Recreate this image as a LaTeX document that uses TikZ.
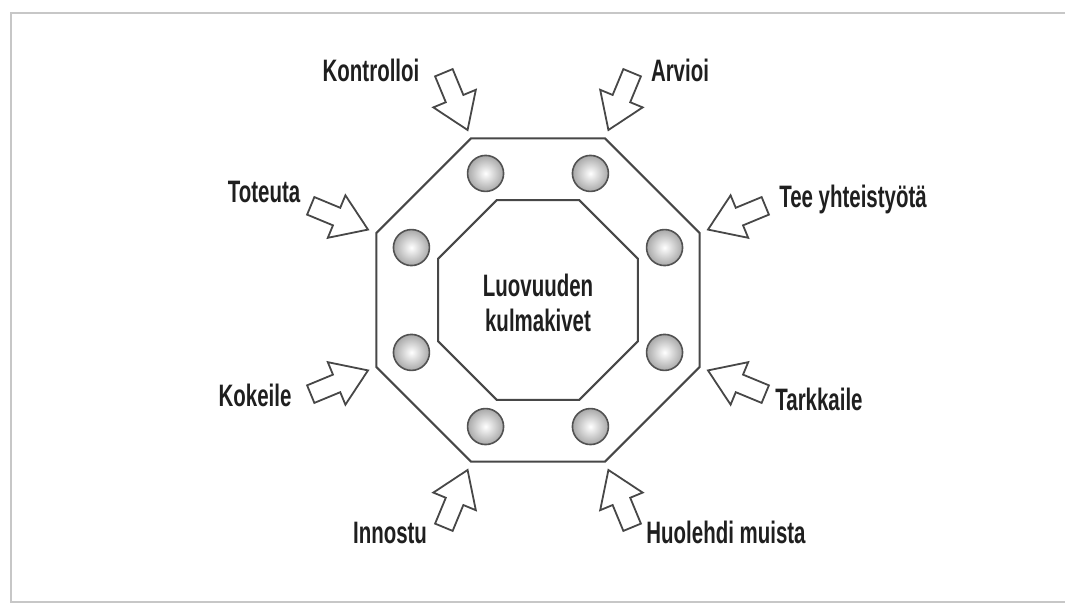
\documentclass[tikz,border=0pt]{standalone}
\usepackage{fontspec}
\setmainfont{Liberation Sans}[FakeStretch=0.66]
\begin{document}
\begin{tikzpicture}[x=1pt,y=1pt,
  lbl/.style={font=\fontsize{31}{35}\selectfont\bfseries, text=black!88, inner sep=0pt, anchor=base},
  oct/.style={draw=black!72, line width=2pt, line join=miter},
  blockarrow/.style={draw=black!72, line width=1.8pt, fill=white, line join=miter},
  studline/.style={draw=black!68, line width=1.6pt},
  frameline/.style={draw=black!22, line width=2.5pt}]
\useasboundingbox (0,0) rectangle (1065,604);
\draw[frameline] (1065,591) -- (11,591) -- (11,2) -- (1065,2);
\coordinate (C) at (538,304);
\begin{scope}[shift={(C)}]
  % outer and inner octagons
  \draw[oct] (22.5:175) \foreach \a in {67.5,112.5,...,337.5}{ -- (\a:175)} -- cycle;
  \draw[oct] (22.5:108) \foreach \a in {67.5,112.5,...,337.5}{ -- (\a:108)} -- cycle;
  % studs
  \foreach \a in {22.5,67.5,...,337.5}{
    \shade[inner color=white, outer color=black!34] (\a:137) circle (18);
    \draw[studline] (\a:137) circle (18);
  }
  % block arrows pointing at the corners
  \foreach \a in {22.5,67.5,...,337.5}{
    \begin{scope}[rotate=\a]
      \draw[blockarrow] (184,0) -- (218,23) -- (218,9.5) -- (246,9.5) -- (246,-9.5) -- (218,-9.5) -- (218,-23) -- cycle;
    \end{scope}
  }
\end{scope}
\node[lbl] (centre1) at (538,307) {Luovuuden};
\node[lbl] (centre2) at (538,272) {kulmakivet};
\node[lbl] (kontrolloi) at (371,522) {Kontrolloi};
\node[lbl] (arvioi) at (680,522) {Arvioi};
\node[lbl] (toteuta) at (264,401) {Toteuta};
\node[lbl] (kokeile) at (255,197) {Kokeile};
\node[lbl] (tee) at (853,396) {Tee yhteistyötä};
\node[lbl] (tarkkaile) at (819,193) {Tarkkaile};
\node[lbl] (innostu) at (390,60) {Innostu};
\node[lbl] (huolehdi) at (726,60) {Huolehdi muista};
\end{tikzpicture}
\end{document}
